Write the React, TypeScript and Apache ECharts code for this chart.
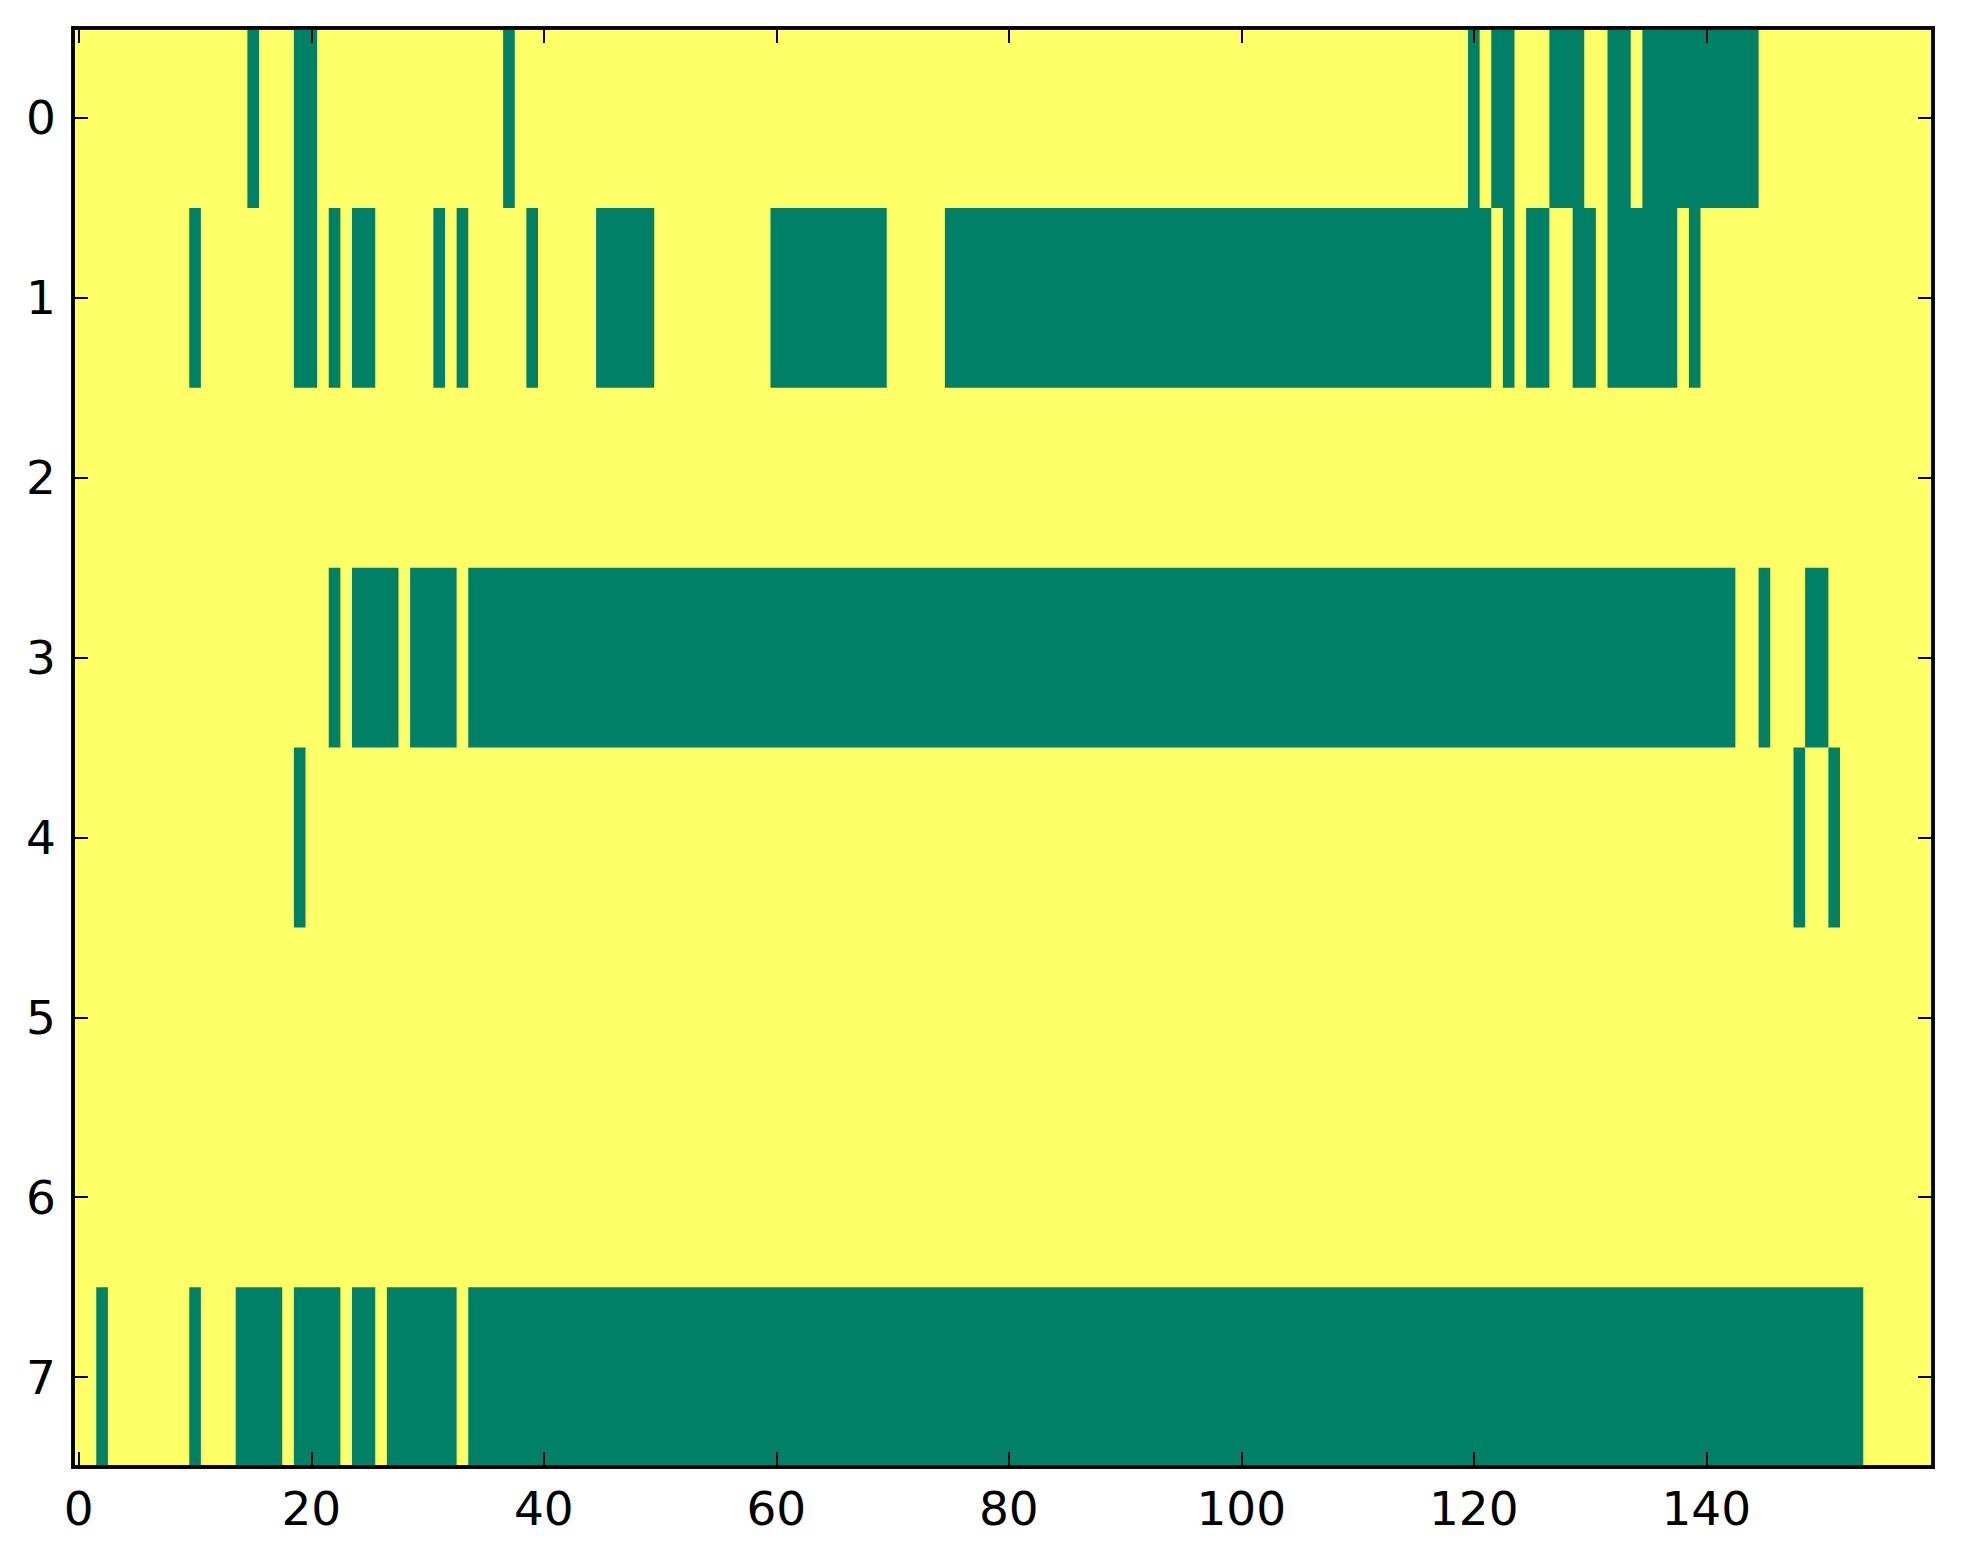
import React, { useEffect, useRef } from "react";
import * as echarts from "echarts";

// Green (value 0) runs per row: [start column, end column] inclusive
const row0 = [[15, 15], [19, 20], [37, 37], [120, 120], [122, 123], [127, 129], [132, 133], [135, 144]];
const row1 = [[10, 10], [19, 20], [22, 22], [24, 25], [31, 31], [33, 33], [39, 39], [45, 49], [60, 69], [75, 121], [123, 123], [125, 126], [129, 130], [132, 137], [139, 139]];
const row2: number[][] = [];
const row3 = [[22, 22], [24, 27], [29, 32], [34, 142], [145, 145], [149, 150]];
const row4 = [[19, 19], [148, 148], [151, 151]];
const row5: number[][] = [];
const row6: number[][] = [];
const row7 = [[2, 2], [10, 10], [14, 17], [19, 22], [24, 25], [27, 32], [34, 153]];
const rows = [row0, row1, row2, row3, row4, row5, row6, row7];

const nCols = 160;
const nRows = 8;
const xTicks = [0, 20, 40, 60, 80, 100, 120, 140];
const yTicks = [0, 1, 2, 3, 4, 5, 6, 7];

const GREEN = "#008066";
const YELLOW = "#ffff66";

export default function App() {
  const ref = useRef<HTMLDivElement>(null);
  useEffect(() => {
    if (!ref.current) return;
    const chart = echarts.init(ref.current, null, { renderer: "svg" });
    const data: number[][] = [];
    rows.forEach((segs, r) => segs.forEach(([s, e]) => data.push([r, s, e])));
    const font = { fontFamily: "DejaVu Sans", fontSize: 47, color: "#000" };
    const line = { show: true, onZero: false, lineStyle: { color: "#000", width: 3.5, cap: "square" } };
    const tick = (len: number, vals: number[]) => ({
      show: true, inside: true, length: len, customValues: vals,
      lineStyle: { color: "#000", width: 2 },
    });
    chart.setOption({
      animation: false,
      backgroundColor: "#fff",
      grid: {
        left: 73, top: 28, width: 1860, height: 1439,
        show: true, backgroundColor: YELLOW, borderWidth: 3.5, borderColor: "#000",
        outerBoundsMode: "none", z: 0,
      },
      xAxis: [
        {
          type: "value", position: "bottom", min: -0.5, max: nCols - 0.5, z: 10,
          axisLine: line, axisTick: tick(15, xTicks), splitLine: { show: false },
          axisLabel: { ...font, margin: 18, customValues: xTicks },
        },
        {
          type: "value", position: "top", min: -0.5, max: nCols - 0.5, z: 10,
          axisLine: line, axisTick: tick(15, xTicks), splitLine: { show: false },
          axisLabel: { show: false },
        },
      ],
      yAxis: [
        {
          type: "value", position: "left", inverse: true, min: -0.5, max: nRows - 0.5, z: 10,
          axisLine: line, axisTick: tick(15, yTicks), splitLine: { show: false },
          axisLabel: { ...font, margin: 17, customValues: yTicks },
        },
        {
          type: "value", position: "right", inverse: true, min: -0.5, max: nRows - 0.5, z: 10,
          axisLine: line, axisTick: tick(15, yTicks), splitLine: { show: false },
          axisLabel: { show: false },
        },
      ],
      series: [
        {
          type: "custom",
          xAxisIndex: 0,
          yAxisIndex: 0,
          data,
          encode: { x: [1, 2], y: 0 },
          z: 1,
          renderItem: (params: any, api: any) => {
            const r = api.value(0);
            const s = api.value(1);
            const e = api.value(2);
            const p0 = api.coord([s - 0.5, r - 0.5]);
            const p1 = api.coord([e + 0.5, r + 0.5]);
            return {
              type: "rect",
              shape: {
                x: Math.min(p0[0], p1[0]),
                y: Math.min(p0[1], p1[1]),
                width: Math.abs(p1[0] - p0[0]),
                height: Math.abs(p1[1] - p0[1]),
              },
              style: { fill: GREEN, stroke: null },
            };
          },
        },
      ],
    });
    return () => chart.dispose();
  }, []);
  return (
    <div
      ref={ref}
      style={{ position: "absolute", left: 0, top: 0, width: 1963, height: 1564 }}
    />
  );
}
